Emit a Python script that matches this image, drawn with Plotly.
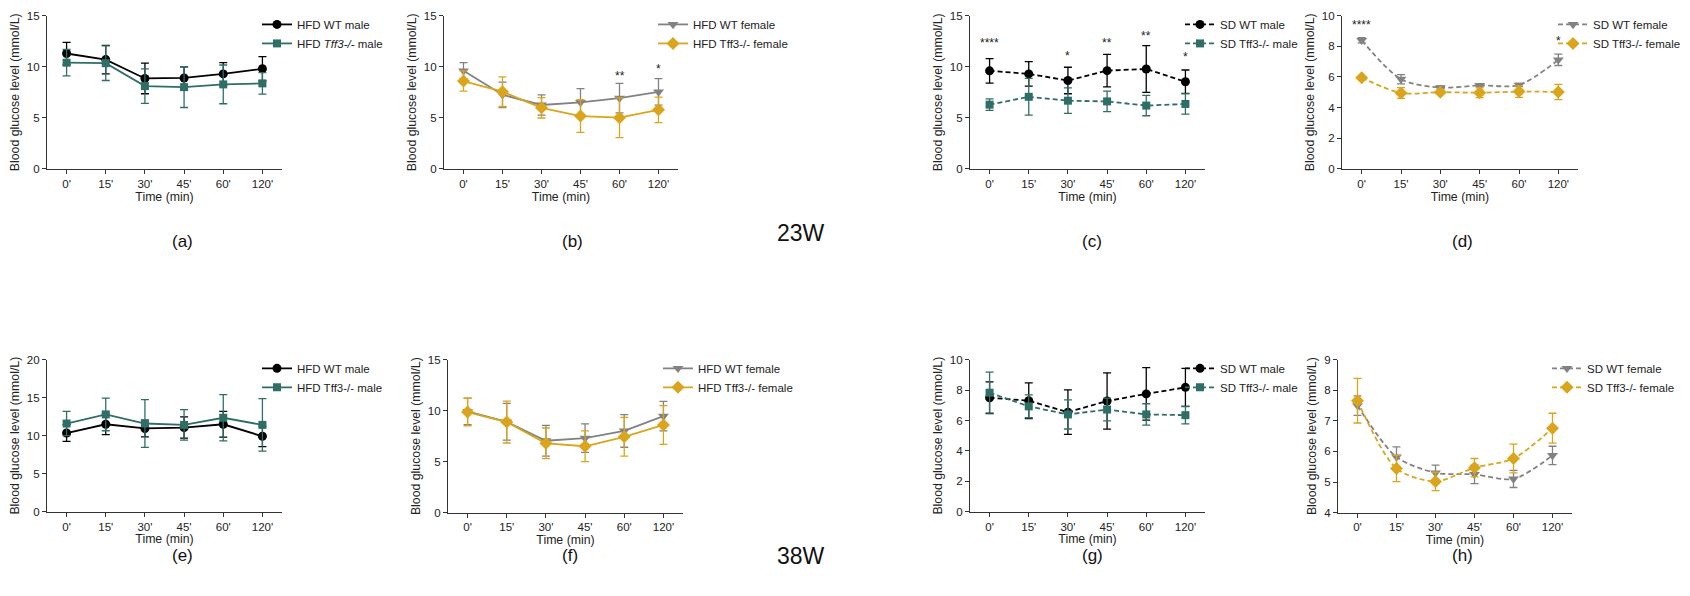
import plotly.graph_objects as go

# ---------------- data ----------------
time_labels = ["0'", "15'", "30'", "45'", "60'", "120'"]

# 23W
a_wt_mean = [11.3, 10.7, 8.85, 8.9, 9.3, 9.8]
a_wt_sd = [1.1, 1.4, 1.5, 1.1, 1.1, 1.2]
a_ko_mean = [10.4, 10.35, 8.1, 8.0, 8.27, 8.37]
a_ko_sd = [1.3, 1.7, 1.7, 2.0, 1.9, 1.06]

b_wt_mean = [9.6, 7.25, 6.25, 6.5, 6.92, 7.53]
b_wt_sd = [0.8, 1.25, 1.0, 1.35, 1.45, 1.3]
b_ko_mean = [8.6, 7.55, 5.97, 5.16, 5.0, 5.77]
b_ko_sd = [1.0, 1.45, 1.0, 1.6, 1.95, 1.25]

c_wt_mean = [9.6, 9.3, 8.65, 9.62, 9.78, 8.53]
c_wt_sd = [1.2, 1.2, 1.3, 1.6, 2.3, 1.15]
c_ko_mean = [6.28, 7.05, 6.67, 6.6, 6.19, 6.35]
c_ko_sd = [0.56, 1.8, 1.25, 1.0, 1.0, 1.0]

d_wt_mean = [8.4, 5.85, 5.3, 5.45, 5.47, 7.12]
d_wt_sd = [0.17, 0.3, 0.1, 0.1, 0.1, 0.37]
d_ko_mean = [5.95, 4.95, 5.0, 4.97, 5.04, 5.02]
d_ko_sd = [0.05, 0.35, 0.1, 0.32, 0.38, 0.5]

# 38W
e_wt_mean = [10.35, 11.5, 10.95, 11.07, 11.5, 9.92]
e_wt_sd = [1.1, 1.35, 1.1, 1.4, 1.7, 1.35]
e_ko_mean = [11.6, 12.8, 11.6, 11.42, 12.36, 11.42]
e_ko_sd = [1.6, 2.15, 3.15, 2.0, 3.05, 3.45]

f_wt_mean = [9.94, 8.91, 7.05, 7.3, 8.01, 9.46]
f_wt_sd = [1.3, 1.8, 1.5, 1.4, 1.6, 1.45]
f_ko_mean = [9.87, 8.88, 6.8, 6.51, 7.44, 8.6]
f_ko_sd = [1.35, 2.05, 1.5, 1.5, 1.9, 1.9]

g_wt_mean = [7.5, 7.3, 6.55, 7.28, 7.75, 8.18]
g_wt_sd = [1.04, 1.18, 1.47, 1.85, 1.73, 1.25]
g_ko_mean = [7.83, 6.93, 6.4, 6.72, 6.4, 6.35]
g_ko_sd = [1.35, 0.75, 0.96, 0.75, 0.7, 0.57]

h_wt_mean = [7.5, 5.82, 5.3, 5.25, 5.1, 5.87]
h_wt_sd = [0.32, 0.33, 0.25, 0.3, 0.28, 0.3]
h_ko_mean = [7.66, 5.44, 5.02, 5.47, 5.77, 6.76]
h_ko_sd = [0.73, 0.43, 0.3, 0.3, 0.47, 0.49]

panel_letters = ["(a)", "(b)", "(c)", "(d)", "(e)", "(f)", "(g)", "(h)"]
row_labels = ["23W", "38W"]

legend_names = [
    ("HFD WT male", "HFD <i>Tff3-/-</i> male"),
    ("HFD WT female", "HFD Tff3-/- female"),
    ("SD WT male", "SD Tff3-/- male"),
    ("SD WT female", "SD Tff3-/- female"),
    ("HFD WT male", "HFD Tff3-/- male"),
    ("HFD WT female", "HFD Tff3-/- female"),
    ("SD WT male", "SD Tff3-/- male"),
    ("SD WT female", "SD Tff3-/- female"),
]

# significance marks: (panel index, time label, y value, text)
sig_marks = [
    (1, "60'", 9.1, "**"), (1, "120'", 9.8, "*"),
    (2, "0'", 12.3, "****"), (2, "30'", 11.1, "*"), (2, "45'", 12.3, "**"),
    (2, "60'", 13.05, "**"), (2, "120'", 11.0, "*"),
    (3, "0'", 9.4, "****"), (3, "120'", 8.35, "*"),
    (6, "120'", 10.15, "**"),
]

y_ranges = [[0, 15], [0, 15], [0, 15], [0, 10], [0, 20], [0, 15], [0, 10], [4, 9]]
y_dticks = [5, 5, 5, 2, 5, 5, 2, 1]

# ---------------- style ----------------
W, H = 1690, 596
FONT = "Arial, Liberation Sans, Helvetica, sans-serif"
BLACK = "#000000"
TEAL = "#2f6e66"
GRAY = "#828282"
GOLD = "#daa51c"

series = [
    (a_wt_mean, a_wt_sd, a_ko_mean, a_ko_sd),
    (b_wt_mean, b_wt_sd, b_ko_mean, b_ko_sd),
    (c_wt_mean, c_wt_sd, c_ko_mean, c_ko_sd),
    (d_wt_mean, d_wt_sd, d_ko_mean, d_ko_sd),
    (e_wt_mean, e_wt_sd, e_ko_mean, e_ko_sd),
    (f_wt_mean, f_wt_sd, f_ko_mean, f_ko_sd),
    (g_wt_mean, g_wt_sd, g_ko_mean, g_ko_sd),
    (h_wt_mean, h_wt_sd, h_ko_mean, h_ko_sd),
]

# panel boxes in pixels (x0, x1, y0_top, y1_bottom)
boxes = [
    (47, 282, 10, 166), (444, 678, 10, 166), (970, 1205, 10, 166), (1342, 1578, 10, 166),
    (47, 282, 361, 516), (448, 683, 361, 517), (970, 1205, 361, 516), (1338, 1572, 361, 517),
]
legend_pos = [(297, 19), (693, 19), (1220, 19), (1593, 19),
              (297, 370), (698, 370), (1220, 370), (1587, 370)]
letter_pos = [(170, 240), (560, 240), (1092, 240), (1475, 240),
              (170, 573), (560, 573), (1092, 573), (1475, 573)]
row_label_pos = [(801, 232), (801, 577)]

styles = []
for i in range(8):
    male = i in (0, 2, 4, 6)
    dashed = i in (2, 3, 6, 7)
    smooth = i in (3, 7)
    if male:
        wt = dict(color=BLACK, symbol="circle", size=9)
        ko = dict(color=TEAL, symbol="square", size=8)
    else:
        wt = dict(color=GRAY, symbol="triangle-down", size=9.5)
        ko = dict(color=GOLD, symbol="diamond", size=10)
    styles.append((wt, ko, dashed, smooth))

fig = go.Figure()

for i in range(8):
    wt_m, wt_s, ko_m, ko_s = series[i]
    wt, ko, dashed, smooth = styles[i]
    ax = "" if i == 0 else str(i + 1)
    leg = "legend" if i == 0 else "legend" + str(i + 1)
    for (m, s, st, name) in [(wt_m, wt_s, wt, legend_names[i][0]),
                             (ko_m, ko_s, ko, legend_names[i][1])]:
        fig.add_trace(go.Scatter(
            x=time_labels, y=m, name=name, mode="lines+markers",
            xaxis="x" + ax, yaxis="y" + ax, legend=leg,
            line=dict(color=st["color"], width=1.8,
                      dash="5px,3px" if dashed else "solid",
                      shape="spline" if smooth else "linear", smoothing=0.8),
            marker=dict(color=st["color"], symbol=st["symbol"], size=st["size"],
                        line=dict(width=0)),
            error_y=dict(type="data", array=s, visible=True, color=st["color"],
                         thickness=1.3, width=4),
            cliponaxis=False,
        ))

layout = dict(
    width=W, height=H, margin=dict(l=0, r=0, t=0, b=0),
    paper_bgcolor="white", plot_bgcolor="white",
    font=dict(family=FONT, size=11.5, color="#222"),
    showlegend=True,
)

for i in range(8):
    x0, x1, y0, y1 = boxes[i]
    ax = "" if i == 0 else str(i + 1)
    layout["xaxis" + ax] = dict(
        domain=[x0 / W, x1 / W], anchor="y" + ax, type="category",
        categoryorder="array", categoryarray=time_labels,
        range=[-0.5, 5.5], showline=True, linecolor="#333", linewidth=1.2,
        ticks="outside", ticklen=4, tickcolor="#333", tickwidth=1.2,
        showgrid=False, zeroline=False,
        tickfont=dict(family=FONT, size=11.5, color="#222"),
        title=dict(text="Time (min)", font=dict(family=FONT, size=12.3, color="#222"),
                   standoff=2),
        fixedrange=True,
    )
    layout["yaxis" + ax] = dict(
        domain=[1 - y1 / H, 1 - y0 / H], anchor="x" + ax,
        range=y_ranges[i], dtick=y_dticks[i], tick0=y_ranges[i][0],
        showline=True, linecolor="#333", linewidth=1.2,
        ticks="outside", ticklen=4, tickcolor="#333", tickwidth=1.2,
        showgrid=False, zeroline=False,
        tickfont=dict(family=FONT, size=11.5, color="#222"),
        title=dict(text="Blood glucose level (mmol/L)",
                   font=dict(family=FONT, size=12.3, color="#222"), standoff=4),
        fixedrange=True,
    )
    lx, ly = legend_pos[i]
    leg = "legend" if i == 0 else "legend" + str(i + 1)
    layout[leg] = dict(
        x=(lx - 40) / W, xanchor="left", y=1 - (ly - 15) / H, yanchor="top",
        bgcolor="rgba(0,0,0,0)", borderwidth=0,
        font=dict(family=FONT, size=11.5, color="#222"),
        tracegroupgap=0, itemwidth=30,
    )

annotations = []
for (pi, t, yv, txt) in sig_marks:
    ax = "" if pi == 0 else str(pi + 1)
    annotations.append(dict(x=t, y=yv, xref="x" + ax, yref="y" + ax, text=txt,
                            showarrow=False, font=dict(family=FONT, size=12, color="#222")))
for i, lab in enumerate(panel_letters):
    px, py = letter_pos[i]
    annotations.append(dict(x=px / W, y=1 - py / H, xref="paper", yref="paper", text=lab,
                            showarrow=False, font=dict(family=FONT, size=17, color="#111")))
for j, lab in enumerate(row_labels):
    px, py = row_label_pos[j]
    annotations.append(dict(x=px / W, y=1 - py / H, xref="paper", yref="paper", text=lab,
                            showarrow=False, font=dict(family=FONT, size=23, color="#111")))
layout["annotations"] = annotations

fig.update_layout(**layout)
fig.write_html("out.html",
               config={"displayModeBar": False},
               post_script="document.body.style.margin='0px';document.body.style.overflow='hidden';")
